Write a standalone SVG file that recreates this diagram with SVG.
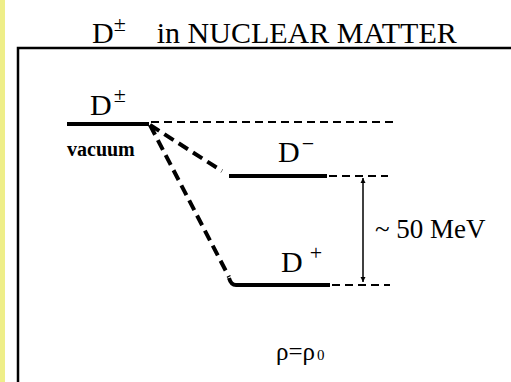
<svg xmlns="http://www.w3.org/2000/svg" width="511" height="382" viewBox="0 0 511 382">
<style>
.t{font-family:"Liberation Serif","Times New Roman",serif;fill:#000}
.lvl{stroke:#000;stroke-width:4;fill:none}
.thin{stroke:#000;stroke-width:2;stroke-dasharray:8 5;fill:none}
.thick{stroke:#000;stroke-width:4;stroke-dasharray:11 6;fill:none}
</style>
<defs>
<marker id="ah" viewBox="0 0 10 10" refX="10" refY="5" markerWidth="5" markerHeight="8" orient="auto-start-reverse" markerUnits="userSpaceOnUse">
<path d="M0,0 L10,5 L0,10 z" fill="#000"/>
</marker>
</defs>
<rect x="0" y="0" width="511" height="382" fill="#fff"/>
<rect x="0" y="0" width="5" height="382" fill="#eeee88"/>
<text class="t" x="92" y="43" font-size="30">D<tspan dy="-12" font-size="22">±</tspan><tspan dy="12" dx="31">in NUCLEAR MATTER</tspan></text>
<path d="M18,382 V48 H511" stroke="#000" stroke-width="2.5" fill="none"/>
<g id="vacuum">
<text class="t" x="90" y="115" font-size="30">D<tspan dy="-13" font-size="22" dx="2">±</tspan></text>
<line class="lvl" x1="67" y1="124" x2="149" y2="124"/>
<text class="t" x="67" y="156" font-size="20" font-weight="bold">vacuum</text>
</g>
<g id="dminus">
<text class="t" x="278" y="162" font-size="30">D<tspan dy="-11" font-size="22" dx="2">−</tspan></text>
<line class="lvl" x1="229" y1="176" x2="327" y2="176"/>
</g>
<g id="dplus">
<text class="t" x="281" y="272" font-size="30">D<tspan dy="-12" font-size="22" dx="7">+</tspan></text>
<path class="lvl" d="M229,278 Q231,285 236,285 H330"/>
</g>
<g id="energy">
<text class="t" x="375" y="238" font-size="27">~ 50 MeV</text>
</g>
<g id="density">
<text class="t" x="276" y="360" font-size="25">ρ=ρ<tspan font-size="15" dx="2">0</tspan></text>
</g>
<g id="connectors">
<line class="thin" x1="151" y1="122" x2="395" y2="122"/>
<line class="thin" x1="329" y1="176" x2="388" y2="176"/>
<line class="thin" x1="332" y1="285" x2="390" y2="285"/>
<line class="thick" x1="150" y1="125" x2="222" y2="171"/>
<line class="thick" x1="150" y1="125" x2="229" y2="277"/>
<line x1="363" y1="178" x2="363" y2="282" stroke="#000" stroke-width="1.5" marker-start="url(#ah)" marker-end="url(#ah)"/>
</g>
</svg>
